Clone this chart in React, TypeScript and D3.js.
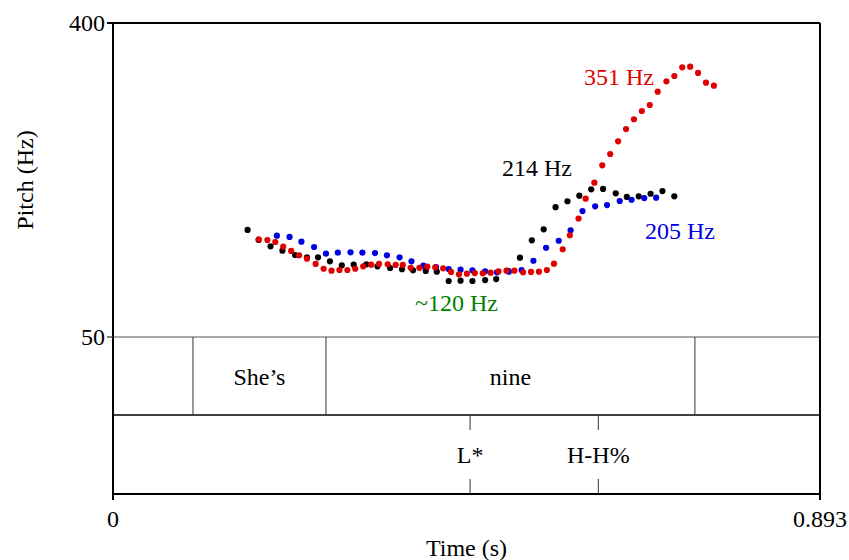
import React from "react";
import * as d3 from "d3";

// pitch tracks (time in s, f0 in Hz)
const blackTimes = [0.170, 0.184, 0.199, 0.214, 0.230, 0.245, 0.259, 0.274, 0.289, 0.304, 0.320, 0.334, 0.350, 0.365, 0.379, 0.395, 0.409, 0.424, 0.439, 0.454, 0.470, 0.484, 0.499, 0.514, 0.529, 0.544, 0.559, 0.574, 0.589, 0.604, 0.619, 0.635, 0.649, 0.664, 0.679, 0.694, 0.709];
const blackHz = [169.3, 158.1, 151.1, 146.2, 141.4, 138.8, 138.8, 134.4, 129.9, 130.6, 131.0, 128.8, 126.9, 125.5, 124.3, 123.6, 122.8, 112.4, 112.8, 112.4, 113.5, 114.6, 123.6, 138.4, 157.8, 170.0, 194.7, 201.3, 207.5, 214.6, 215.0, 210.2, 206.1, 206.8, 209.7, 212.7, 206.8];

const blueTimes = [0.207, 0.223, 0.238, 0.254, 0.269, 0.284, 0.300, 0.315, 0.331, 0.346, 0.362, 0.377, 0.392, 0.408, 0.424, 0.439, 0.454, 0.470, 0.485, 0.500, 0.516, 0.531, 0.547, 0.563, 0.578, 0.593, 0.609, 0.624, 0.640, 0.655, 0.671, 0.686];
const blueHz = [162.9, 161.5, 156.2, 150.3, 142.9, 144.0, 144.4, 144.0, 143.6, 141.1, 138.8, 134.4, 129.5, 128.0, 125.8, 125.0, 124.3, 123.2, 122.1, 122.8, 124.7, 135.0, 149.5, 157.3, 168.9, 190.4, 195.7, 197.1, 201.6, 203.0, 204.9, 205.3];

const redTimes = [0.184, 0.195, 0.205, 0.215, 0.225, 0.235, 0.245, 0.256, 0.266, 0.276, 0.286, 0.296, 0.306, 0.316, 0.326, 0.336, 0.347, 0.357, 0.366, 0.376, 0.387, 0.397, 0.407, 0.417, 0.427, 0.437, 0.447, 0.457, 0.467, 0.477, 0.487, 0.497, 0.507, 0.518, 0.528, 0.538, 0.548, 0.557, 0.568, 0.577, 0.588, 0.597, 0.608, 0.618, 0.628, 0.638, 0.648, 0.658, 0.668, 0.678, 0.688, 0.699, 0.709, 0.719, 0.729, 0.739, 0.749, 0.759];
const redHz = [158.9, 158.1, 155.9, 150.7, 145.9, 141.1, 137.3, 131.4, 126.1, 123.9, 124.7, 124.7, 126.1, 128.8, 130.6, 131.4, 131.0, 130.3, 130.3, 127.2, 127.2, 128.4, 127.7, 126.6, 122.5, 119.9, 120.6, 121.3, 121.0, 121.7, 123.2, 123.9, 123.9, 122.1, 122.5, 122.8, 124.7, 131.7, 147.8, 163.4, 182.1, 204.2, 222.0, 241.4, 254.0, 268.1, 281.8, 292.7, 301.9, 308.6, 323.4, 335.0, 340.9, 350.6, 351.3, 344.3, 333.5, 330.1];

// textgrid
const wordBounds = [0.101, 0.269, 0.735];
const wordLabels = ["She\u2019s", "nine"];
const toneTimes = [0.451, 0.613];
const toneLabels = ["L*", "H-H%"];

const yTicks = [50, 400];
const xTicks = [0, 0.893];

const series = [
  { times: blackTimes, hz: blackHz, color: "#000000" },
  { times: blueTimes, hz: blueHz, color: "#0000e0" },
  { times: redTimes, hz: redHz, color: "#e00000" },
];

export default function App() {
  const left = 113, right = 820, top = 23, pitchBottom = 337, tier1Bottom = 415, bottom = 494;
  const x = d3.scaleLinear().domain([0, 0.893]).range([left, right]);
  const y = d3.scaleLinear().domain([50, 400]).range([pitchBottom, top]);
  const font = "'Liberation Serif', 'Times New Roman', serif";

  const wordEdges = [0, ...wordBounds, 0.893];

  return (
    <svg width={849} height={560} style={{ position: "absolute", left: 0, top: 0 }} fontFamily={font}>
      <rect width={849} height={560} fill="white" />

      {/* pitch dots */}
      {series.map((s, si) => (
        <g key={si} fill={s.color}>
          {s.times.map((t, i) => (
            <circle key={i} cx={x(t)} cy={y(s.hz[i])} r={3.1} />
          ))}
        </g>
      ))}

      {/* annotations */}
      <text x={654} y={85} fontSize={24} fill="#e00000" textAnchor="end">351 Hz</text>
      <text x={502} y={176} fontSize={24} fill="#000">214 Hz</text>
      <text x={645} y={239} fontSize={24} fill="#0000e0">205 Hz</text>
      <text x={415} y={311} fontSize={24} fill="#008000">~120 Hz</text>

      {/* tier separators */}
      <line x1={left - 6} x2={right} y1={y(50)} y2={y(50)} stroke="#555" strokeWidth={1} />
      <line x1={left} x2={right} y1={tier1Bottom} y2={tier1Bottom} stroke="#000" strokeWidth={1.5} />

      {/* word boundaries */}
      {wordBounds.map((b, i) => (
        <line key={i} x1={x(b)} x2={x(b)} y1={pitchBottom} y2={tier1Bottom} stroke="#333" strokeWidth={1} />
      ))}
      {wordLabels.map((w, i) => (
        <text key={w} x={(x(wordEdges[i + 1]) + x(wordEdges[i + 2])) / 2} y={385} fontSize={24} textAnchor="middle">{w}</text>
      ))}

      {/* tone points */}
      {toneTimes.map((t, i) => (
        <g key={i}>
          <line x1={x(t)} x2={x(t)} y1={tier1Bottom} y2={tier1Bottom + 15} stroke="#333" strokeWidth={1} />
          <line x1={x(t)} x2={x(t)} y1={bottom - 15} y2={bottom} stroke="#333" strokeWidth={1} />
          <text x={x(t)} y={463} fontSize={24} textAnchor="middle">{toneLabels[i]}</text>
        </g>
      ))}

      {/* frame */}
      <line x1={left} x2={right} y1={top} y2={top} stroke="#000" strokeWidth={2} />
      <line x1={left} x2={right} y1={bottom} y2={bottom} stroke="#000" strokeWidth={2} />
      <line x1={left} x2={left} y1={top} y2={bottom + 6} stroke="#000" strokeWidth={2} />
      <line x1={right} x2={right} y1={top} y2={bottom + 6} stroke="#000" strokeWidth={2} />

      {/* y ticks */}
      {yTicks.map((v) => (
        <g key={v}>
          <line x1={left - 6} x2={left} y1={y(v)} y2={y(v)} stroke={v === 400 ? "#000" : "#555"} strokeWidth={v === 400 ? 2 : 1} />
          <text x={left - 8} y={y(v)} fontSize={24} textAnchor="end" dominantBaseline="central">{v}</text>
        </g>
      ))}
      {/* x ticks */}
      {xTicks.map((v) => (
        <text key={v} x={x(v)} y={527} fontSize={24} textAnchor="middle">{v}</text>
      ))}

      <text x={(left + right) / 2} y={556} fontSize={24} textAnchor="middle">Time (s)</text>
      <text transform={`translate(33, ${(top + pitchBottom) / 2}) rotate(-90)`} fontSize={24} textAnchor="middle">Pitch (Hz)</text>
    </svg>
  );
}
